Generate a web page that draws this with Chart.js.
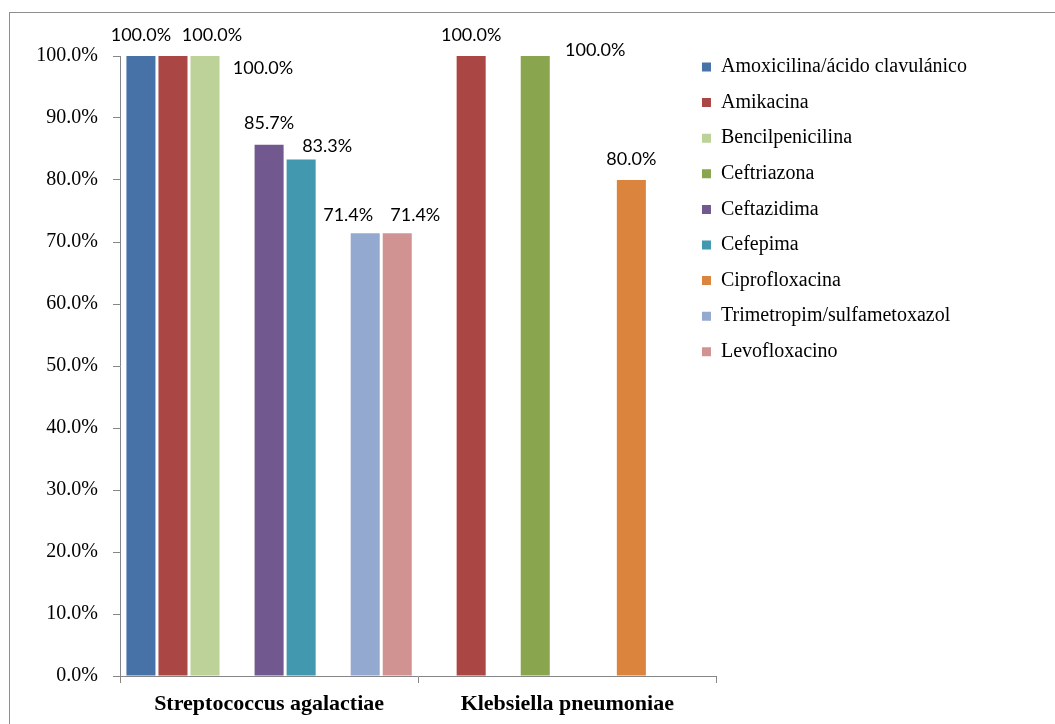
<!DOCTYPE html>
<html>
<head>
<meta charset="utf-8">
<title>Sensibilidad antimicrobiana</title>
<script src="https://cdn.jsdelivr.net/npm/chart.js@4"></script>
<style>
  html, body { margin: 0; padding: 0; background: #fff; }
  #marco { position: relative; width: 1055px; height: 724px; overflow: hidden; }
  #marco .borde { position: absolute; left: 9px; top: 12px; width: 1100px; height: 800px; border: 1px solid #8e8e8e; }
  #marco canvas { position: absolute; left: 0; top: 0; }
</style>
</head>
<body>
<div id="marco">
  <div class="borde"></div>
  <canvas id="sensibilidad" width="1055" height="724"></canvas>
</div>
<script>
// ---------------- datos ----------------
const categorias = ['Streptococcus agalactiae', 'Klebsiella pneumoniae'];

const antibioticos = [
    'Amoxicilina/ácido clavulánico',
    'Amikacina',
    'Bencilpenicilina',
    'Ceftriazona',
    'Ceftazidima',
    'Cefepima',
    'Ciprofloxacina',
    'Trimetropim/sulfametoxazol',
    'Levofloxacino'
];

// % de sensibilidad por microorganismo (null = no evaluado)
const amoxicilina = [100, null];
const amikacina = [100, 100];
const bencilpenicilina = [100, null];
const ceftriazona = [null, 100];
const ceftazidima = [85.7, null];
const cefepima = [83.3, null];
const ciprofloxacina = [null, 80];
const trimetropim = [71.4, null];
const levofloxacino = [71.4, null];

const valores = [amoxicilina, amikacina, bencilpenicilina, ceftriazona, ceftazidima,
    cefepima, ciprofloxacina, trimetropim, levofloxacino];

const ticksY = [0, 10, 20, 30, 40, 50, 60, 70, 80, 90, 100];

const colores = ['#4672A8', '#AA4643', '#BCD298', '#89A54E', '#71588F',
    '#4198AF', '#DB843D', '#93A9CF', '#D19392'];

// ---------------- plugins ----------------
// etiquetas de valor encima de cada barra (algunas desplazadas para que no se pisen)
const etiquetas = {
    id: 'etiquetas',
    afterDatasetsDraw(chart, args, opts) {
        const ctx = chart.ctx;
        ctx.save();
        ctx.font = '18px Lato';
        ctx.fillStyle = '#000';
        ctx.textAlign = 'center';
        ctx.textBaseline = 'middle';
        chart.data.datasets.forEach((ds, i) => {
            chart.getDatasetMeta(i).data.forEach((bar, j) => {
                const v = ds.data[j];
                if (v === null || v === undefined) return;
                const [dx, dy] = opts.desplazar[i + '-' + j] || [0, 0];
                ctx.fillText(v.toFixed(1) + '%', bar.x + dx, bar.y - 21 + dy);
            });
        });
        ctx.restore();
    }
};

// mueve la leyenda un poco hacia el área del gráfico
const ajusteLeyenda = {
    id: 'ajusteLeyenda',
    afterLayout(chart, args, opts) {
        const lg = chart.legend;
        lg.left += opts.dx;
        lg.right += opts.dx;
        lg.top += opts.dy;
        lg.bottom += opts.dy;
    }
};

// ---------------- gráfico ----------------
const ejeGris = '#868686';

new Chart(document.getElementById('sensibilidad'), {
    type: 'bar',
    data: {
        labels: categorias,
        datasets: antibioticos.map((nombre, i) => ({
            label: nombre,
            data: valores[i],
            backgroundColor: colores[i],
            borderWidth: 0,
            barPercentage: 0.906,
            categoryPercentage: 0.967
        }))
    },
    plugins: [etiquetas, ajusteLeyenda],
    options: {
        responsive: false,
        animation: false,
        layout: {
            padding: {top: 56, right: 48, left: 0, bottom: 0}
        },
        plugins: {
            legend: {
                position: 'right',
                align: 'start',
                maxWidth: 320,
                labels: {
                    boxWidth: 9,
                    boxHeight: 9,
                    padding: 15.6,
                    color: '#000',
                    font: {family: 'Liberation Serif', size: 20}
                }
            },
            tooltip: {enabled: false},
            etiquetas: {
                desplazar: {
                    '1-0': [39, 0],
                    '2-0': [58, 33],
                    '5-0': [26, 8],
                    '7-0': [-17, 2.5],
                    '8-0': [18, 2.5],
                    '3-1': [60, 15]
                }
            },
            ajusteLeyenda: {dx: -30, dy: -14.6}
        },
        scales: {
            x: {
                grid: {drawOnChartArea: false, tickLength: 7, color: ejeGris, offset: true},
                border: {color: ejeGris},
                ticks: {
                    color: '#000',
                    padding: 8,
                    font: {family: 'Liberation Serif', size: 22, weight: 'bold'}
                },
                afterFit: scale => { scale.height = 48; }
            },
            y: {
                min: 0,
                max: 100,
                grid: {drawOnChartArea: false, tickLength: 7, color: ejeGris},
                border: {color: ejeGris},
                ticks: {
                    color: '#000',
                    padding: 15,
                    font: {family: 'Liberation Serif', size: 20},
                    callback: v => v.toFixed(1) + '%'
                },
                afterBuildTicks: scale => { scale.ticks = ticksY.map(v => ({value: v})); },
                afterFit: scale => { scale.width = 120; }
            }
        }
    }
});
</script>
</body>
</html>
